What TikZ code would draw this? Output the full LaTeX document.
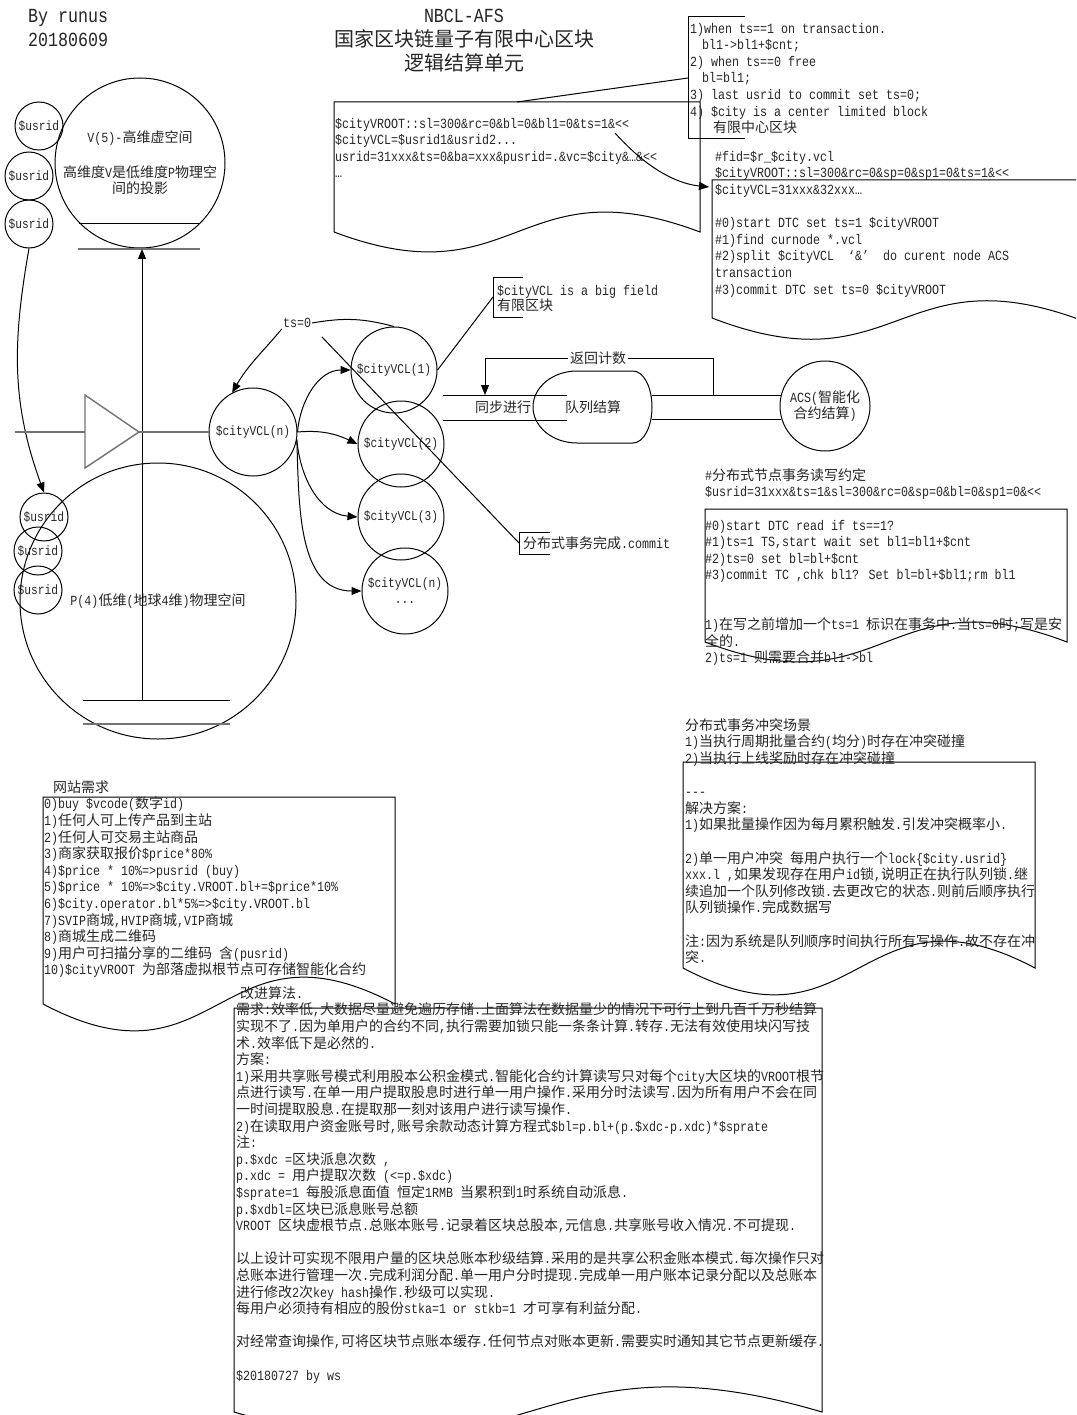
\documentclass[tikz,border=0pt]{standalone}
\usepackage{fontspec}
\usetikzlibrary{arrows.meta}
\newfontfamily\cjkfont{Noto Sans CJK SC}
\newfontfamily\latfont{Liberation Mono}[FakeStretch=0.8333]
\XeTeXinterchartokenstate=1
\chardef\mycjkclass=10
\makeatletter
\count@="4E00
\loop
 \XeTeXcharclass\count@=\mycjkclass
 \advance\count@\@ne
\ifnum\count@<"A000\relax
\repeat
\makeatother
\XeTeXinterchartoks 0 \mycjkclass = {\cjkfont}
\XeTeXinterchartoks 4095 \mycjkclass = {\cjkfont}
\XeTeXinterchartoks \mycjkclass 0 = {\latfont}
\XeTeXinterchartoks \mycjkclass 4095 = {\latfont}
\newcommand\bodyfont{\latfont\fontsize{14pt}{16.6pt}\selectfont}
\newcommand\circfont{\latfont\fontsize{13.5pt}{16pt}\selectfont}
\newcommand\titlefont{\latfont\fontsize{20pt}{24pt}\selectfont}
\newcommand\mystrut{\rule{0pt}{13pt}}
\newcommand\mystrutT{\rule{0pt}{18pt}}
\tikzset{
 ln/.style={line width=1pt, draw=black},
 gln/.style={line width=1.4pt, draw=black!55},
 arr/.style={line width=1pt, draw=black, -{Triangle[length=10pt,width=8pt]}},
 txt/.style={anchor=north west, inner sep=0pt, align=left, font=\bodyfont, text=black!85},
 ctxt/.style={inner sep=0pt, align=center, font=\bodyfont, text=black!85},
 circ/.style={circle, draw=black, line width=1pt, inner sep=0pt, align=center, font=\circfont, text=black!85},
}
\begin{document}
\begin{tikzpicture}[x=1pt,y=-1pt]
\path[use as bounding box] (0,0) rectangle (1076,1415);
\fill[white] (0,0) rectangle (1076,1415);
\clip (0,0) rectangle (1076,1415);

% ---------- headings ----------
\node[anchor=north west, inner sep=0pt, align=left, font=\titlefont, text=black!85] (by) at (28,4) {\mystrutT By runus\\20180609};
\node[anchor=north, inner sep=0pt, align=center, font=\titlefont, text=black!85] (title) at (464,4) {\mystrutT NBCL-AFS\\国家区块链量子有限中心区块\\逻辑结算单元};

% ---------- V space ----------
\node[circ, minimum size=170pt, font=\bodyfont] (V) at (140,163) {V(5)-高维虚空间\\[18pt]高维度V是低维度P物理空\\间的投影};
\draw[ln] (79,224) -- (200,224);
\draw[gln] (78,249) -- (200,249);
\coordinate (vb) at (142,249);

\node[circ, minimum size=48pt] (u1) at (39,126) {\$usrid};
\node[circ, minimum size=48pt] (u2) at (29,176) {\$usrid};
\node[circ, minimum size=48pt] (u3) at (29,224) {\$usrid};

% ---------- P space ----------
\node[circ, minimum size=276pt, font=\bodyfont] (P) at (158,601) {P(4)低维(地球4维)物理空间};
\draw[ln] (83,700) -- (230,700);
\draw[gln] (83,724) -- (230,724);
\coordinate (pb) at (142,700);

\node[circ, minimum size=48pt] (d1) at (44,517) {\$usrid};
\node[circ, minimum size=48pt] (d2) at (38,551) {\$usrid};
\node[circ, minimum size=48pt] (d3) at (38,590) {\$usrid};

\draw[arr] (pb) -- (vb);
\draw[arr] (u3.south) to[out=-100, in=110] (d1.north);

% ---------- triangle ----------
\draw[gln] (85,395) -- (85,468) -- (139,432) -- cycle;
\coordinate (tl) at (15,432);
\coordinate (tb) at (85,432);
\coordinate (ta) at (139,432);

% ---------- city VCL circles ----------
\node[circ, minimum size=88pt] (cn) at (253,432) {\$cityVCL(n)};
\node[circ, minimum size=86pt] (c1) at (394,370) {\$cityVCL(1)};
\node[circ, minimum size=86pt] (c2) at (401,444) {\$cityVCL(2)};
\node[circ, minimum size=86pt] (c3) at (401,517) {\$cityVCL(3)};
\node[circ, minimum size=86pt] (c4) at (405,591) {\$cityVCL(n)\\...};

\draw[gln] (tl) -- (tb);
\draw[gln] (ta) -- (cn.west);

\draw[arr] (cn.east) to[out=85, in=180] (c1.west);
\draw[arr] (cn.east) to[out=5, in=155] (c2.west);
\draw[arr] (cn.-10) to[out=-85, in=175] (c3.west);
\draw[arr] (cn.-10) to[out=-88, in=180] (c4.west);

\node[ctxt, inner sep=1pt] (ts) at (297,323) {ts=0};
\draw[ln] (c1.north) to[out=165, in=10] (ts.east);
\draw[arr] (ts.south west) to[out=230, in=60] (cn.118);

% ---------- callouts D and E ----------
\draw[ln] (523,277) -- (493,277) -- (493,317) -- (523,317);
\coordinate (dMid) at (493,297);
\node[anchor=north west, inner sep=0pt, align=left, font=\latfont\fontsize{14pt}{15.5pt}\selectfont, text=black!85] (dtxt) at (497,282) {\mystrut\$cityVCL is a big field\\有限区块};
\draw[ln] (c1.east) -- (dMid);

\draw[ln] (550,532) -- (519,532) -- (519,554) -- (550,554);
\coordinate (eMid) at (519,543);
\coordinate (e0) at (322,337);
\node[txt] (etxt) at (523,535) {\mystrut 分布式事务完成.commit};
\draw[ln] (e0) -- (eMid);

% ---------- queue ----------
\draw[ln] (577,371) -- (633,371) arc[start angle=90, end angle=-90, x radius=19pt, y radius=36pt] -- (577,443) arc[start angle=-90, end angle=-270, x radius=44pt, y radius=36pt] -- cycle;
\node[ctxt] (sync) at (503,407) {同步进行};
\node[ctxt] (queue) at (593,407) {队列结算};
\draw[ln] (443,395) -- (567,395);
\draw[ln] (443,420) -- (567,420);
\node[circ, minimum size=90pt, font=\bodyfont] (acs) at (825,406) {ACS(智能化\\合约结算)};
\coordinate (r1) at (652,395);
\coordinate (r2) at (652,419);
\coordinate (a1) at (781,395);
\coordinate (a2) at (781,419);
\draw[ln] (r1) -- (a1);
\draw[ln] (r2) -- (a2);
\coordinate (fbs) at (713,395);
\coordinate (fbe) at (485,395);
\draw[arr] (fbs) -- (713,358) -- (485,358) -- (fbe);
\node[ctxt, fill=white, inner sep=2pt] (fb) at (598,358) {返回计数};

% ---------- document A ----------
\draw[ln] (334,232) -- (334,102) -- (700,102) -- (700,232) .. controls (517,163) and (517,301) .. (334,232);
\coordinate (aTop) at (517,102);
\coordinate (aOut) at (615,133);
\node[txt] (atxt) at (335,115) {\mystrut\$cityVROOT::sl=300\&rc=0\&bl=0\&bl1=0\&ts=1\&<{}<\\
\$cityVCL=\$usrid1\&usrid2...\\
usrid=31xxx\&ts=0\&ba=xxx\&pusrid=.\&vc=\$city\&…\&<{}<\\
…};

% ---------- callout C ----------
\draw[ln] (745,17) -- (688,17) -- (688,139) -- (745,139);
\coordinate (cMid) at (688,78);
\node[txt] (ctx) at (690,20) {\mystrut 1)when ts==1 on transaction.\\
\hspace*{12pt}bl1->bl1+\$cnt;\\
2) when ts==0 free\\
\hspace*{12pt}bl=bl1;\\
3) last usrid to commit set ts=0;\\
4) \$city is a center limited block\\
\hspace*{23pt}有限中心区块};
\draw[ln] (cMid) -- (aTop);

% ---------- document B ----------
\draw[ln] (712,318) -- (712,180) -- (1086,180) -- (1086,322) .. controls (899,250) and (899,390) .. (712,318);
\coordinate (bIn) at (709,187);
\node[txt] (btxt) at (715,148) {\mystrut\#fid=\$r\_\$city.vcl\\
\$cityVROOT::sl=300\&rc=0\&sp=0\&sp1=0\&ts=1\&<{}<\\
\$cityVCL=31xxx\&32xxx…\\
\\
\#0)start DTC set ts=1 \$cityVROOT\\
\#1)find curnode *.vcl\\
\#2)split \$cityVCL\ \ ‘\&’\ \ do curent node ACS\\
transaction\\
\#3)commit DTC set ts=0 \$cityVROOT};
\draw[arr] (aOut) .. controls (650,172) and (680,184) .. (bIn);

% ---------- document G ----------
\draw[ln] (705,642) -- (705,509) -- (1067,509) -- (1067,642) .. controls (886,573) and (886,711) .. (705,642);
\node[txt] (gtxt) at (705,467) {\mystrut\#分布式节点事务读写约定\\
\$usrid=31xxx\&ts=1\&sl=300\&rc=0\&sp=0\&bl=0\&sp1=0\&<{}<\\
\\
\#0)start DTC read if ts==1?\\
\#1)ts=1 TS,start wait set bl1=bl1+\$cnt\\
\#2)ts=0 set bl=bl+\$cnt\\
\#3)commit TC ,chk bl1? Set bl=bl+\$bl1;rm bl1\\
\\
\\
1)在写之前增加一个ts=1 标识在事务中.当ts=0时;写是安\\
全的.\\
2)ts=1 则需要合并bl1->bl};

% ---------- document H ----------
\draw[ln] (683,968) -- (683,762) -- (1035,762) -- (1035,968) .. controls (859,875) and (859,1061) .. (683,968);
\node[txt] (htxt) at (685,717) {\mystrut 分布式事务冲突场景\\
1)当执行周期批量合约(均分)时存在冲突碰撞\\
2)当执行上线奖励时存在冲突碰撞\\
\\
-{}-{}-\\
解决方案:\\
1)如果批量操作因为每月累积触发.引发冲突概率小.\\
\\
2)单一用户冲突 每用户执行一个lock\{\$city.usrid\}\\
xxx.l ,如果发现存在用户id锁,说明正在执行队列锁.继\\
续追加一个队列修改锁.去更改它的状态.则前后顺序执行\\
队列锁操作.完成数据写\\
\\
注:因为系统是队列顺序时间执行所有写操作.故不存在冲\\
突.};

% ---------- document I ----------
\draw[ln] (43,1004) -- (43,797) -- (395,797) -- (395,1004) .. controls (219,911) and (219,1097) .. (43,1004);
\node[txt] (itxt) at (44,779) {\mystrut\hspace*{9pt}网站需求\\
0)buy \$vcode(数字id)\\
1)任何人可上传产品到主站\\
2)任何人可交易主站商品\\
3)商家获取报价\$price*80\%\\
4)\$price * 10\%=>pusrid (buy)\\
5)\$price * 10\%=>\$city.VROOT.bl+=\$price*10\%\\
6)\$city.operator.bl*5\%=>\$city.VROOT.bl\\
7)SVIP商城,HVIP商城,VIP商城\\
8)商城生成二维码\\
9)用户可扫描分享的二维码 含(pusrid)\\
10)\$cityVROOT 为部落虚拟根节点可存储智能化合约};

% ---------- document J ----------
\draw[ln] (234,1412) -- (234,1008) -- (822,1008) -- (822,1412) .. controls (528,1325) and (528,1499) .. (234,1412);
\node[txt] (jtxt) at (236,985) {\mystrut\hspace*{4pt}改进算法.\\
需求:效率低,大数据尽量避免遍历存储.上面算法在数据量少的情况下可行上到几百千万秒结算\\
实现不了.因为单用户的合约不同,执行需要加锁只能一条条计算.转存.无法有效使用块闪写技\\
术.效率低下是必然的.\\
方案:\\
1)采用共享账号模式利用股本公积金模式.智能化合约计算读写只对每个city大区块的VROOT根节\\
点进行读写.在单一用户提取股息时进行单一用户操作.采用分时法读写.因为所有用户不会在同\\
一时间提取股息.在提取那一刻对该用户进行读写操作.\\
2)在读取用户资金账号时,账号余款动态计算方程式\$bl=p.bl+(p.\$xdc-p.xdc)*\$sprate\\
注:\\
p.\$xdc =区块派息次数 ,\\
p.xdc = 用户提取次数 (<=p.\$xdc)\\
\$sprate=1 每股派息面值 恒定1RMB 当累积到1时系统自动派息.\\
p.\$xdbl=区块已派息账号总额\\
VROOT 区块虚根节点.总账本账号.记录着区块总股本,元信息.共享账号收入情况.不可提现.\\
\\
以上设计可实现不限用户量的区块总账本秒级结算.采用的是共享公积金账本模式.每次操作只对\\
总账本进行管理一次.完成利润分配.单一用户分时提现.完成单一用户账本记录分配以及总账本\\
进行修改2次key hash操作.秒级可以实现.\\
每用户必须持有相应的股份stka=1 or stkb=1 才可享有利益分配.\\
\\
对经常查询操作,可将区块节点账本缓存.任何节点对账本更新.需要实时通知其它节点更新缓存.\\
\\
\$20180727 by ws};
\end{tikzpicture}
\end{document}
